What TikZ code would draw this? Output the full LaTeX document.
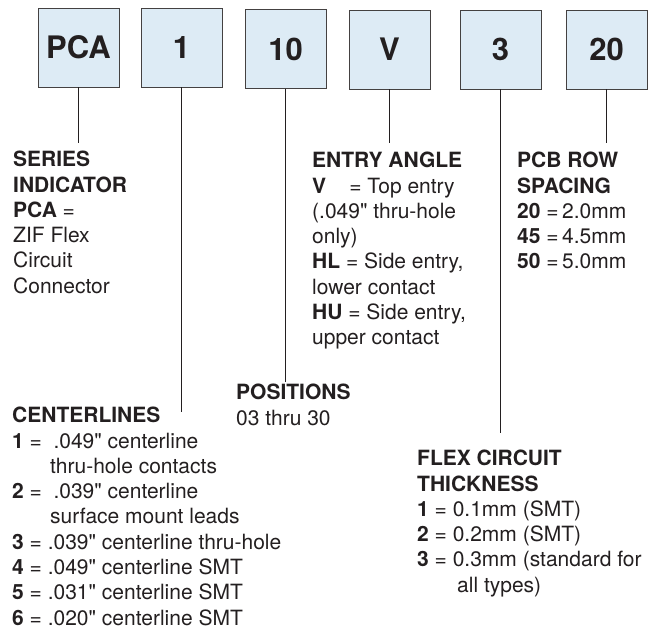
\documentclass[tikz,border=0pt]{standalone}
\usepackage{fontspec}
\setmainfont{TeX Gyre Heros}
\usetikzlibrary{positioning}
\definecolor{codefill}{HTML}{DDEBF5}
\definecolor{inkgray}{HTML}{231F20}
\newcommand{\inch}{\textquotedbl}
\newcommand{\indentby}[1]{\hspace*{#1}}

\begin{document}
\begin{tikzpicture}[x=1pt,y=-1pt,
    codebox/.style={draw=inkgray!85,line width=0.8pt,fill=codefill,minimum width=81pt,minimum height=79pt,inner sep=0pt,text=inkgray,font=\fontsize{31}{31}\selectfont\bfseries},
    legend/.style={anchor=north west,align=left,inner sep=0pt,text=inkgray,font=\fontsize{21}{25.3}\selectfont},
    lead/.style={draw=inkgray,line width=1.8pt}]
        \useasboundingbox (0,0) rectangle (658,627);

        % part number fields
        \node[codebox] (pca) at (78.5,47.5) {PCA};
        \node[codebox] (ctr) at (181.5,47.5) {1};
        \node[codebox] (pos) at (285.5,49) {10};
        \node[codebox] (ang) at (389.5,49.5) {V};
        \node[codebox] (thk) at (500.5,49.5) {3};
        \node[codebox] (row) at (606.5,49.5) {20};

        % lead ends
        \coordinate (pcaend) at (78.5,143);
        \coordinate (ctrend) at (181.5,412);
        \coordinate (posend) at (285.5,382);
        \coordinate (angend) at (389.5,143);
        \coordinate (thkend) at (500.5,433);
        \coordinate (rowend) at (606.5,143);

        \draw[lead] (pca.south) -- (pcaend);
        \draw[lead] (ctr.south) -- (ctrend);
        \draw[lead] (pos.south) -- (posend);
        \draw[lead] (ang.south) -- (angend);
        \draw[lead] (thk.south) -- (thkend);
        \draw[lead] (row.south) -- (rowend);

        % legends (placed by top of first line)
        \node[legend] (series) at (13,151) {\textbf{SERIES}\\\textbf{INDICATOR}\\\textbf{PCA} =\\ZIF Flex\\Circuit\\Connector};
        \node[legend] (entry) at (312,152) {\textbf{ENTRY ANGLE}\\\textbf{V}\hspace{1.1em}= Top entry\\(.049\inch{} thru-hole\\only)\\\textbf{HL} = Side entry,\\lower contact\\\textbf{HU} = Side entry,\\upper contact};
        \node[legend] (spacing) at (517,152) {\textbf{PCB ROW}\\\textbf{SPACING}\\\textbf{20} =\,2.0mm\\\textbf{45} =\,4.5mm\\\textbf{50} =\,5.0mm};
        \node[legend] (positions) at (236,384) {\textbf{POSITIONS}\\03 thru 30};
        \node[legend] (centerlines) at (12,407) {\textbf{CENTERLINES}\\\textbf{1} =\hspace{0.55em}.049\inch{} centerline\\\indentby{38pt}thru-hole contacts\\\textbf{2} =\hspace{0.55em}.039\inch{} centerline\\\indentby{38pt}surface mount leads\\\textbf{3} = .039\inch{} centerline thru-hole\\\textbf{4} = .049\inch{} centerline SMT\\\textbf{5} = .031\inch{} centerline SMT\\\textbf{6} = .020\inch{} centerline SMT};
        \node[legend] (thickness) at (417,450) {\textbf{FLEX CIRCUIT}\\\textbf{THICKNESS}\\\textbf{1} = 0.1mm (SMT)\\\textbf{2} = 0.2mm (SMT)\\\textbf{3} = 0.3mm (standard for\\\indentby{40pt}all types)};
\end{tikzpicture}
\end{document}
